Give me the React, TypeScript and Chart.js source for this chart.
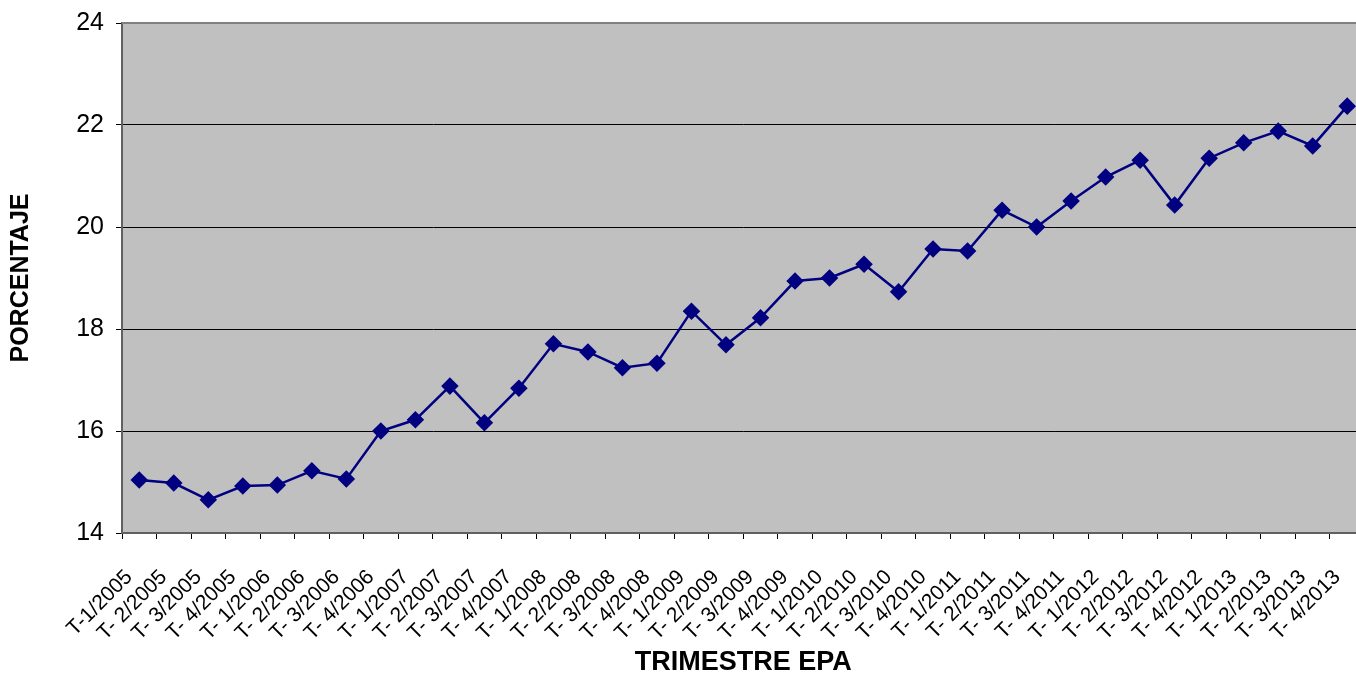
import React, { useEffect, useRef } from "react";
import { Chart, registerables } from "chart.js";

Chart.register(...registerables);

const categories: string[] = [
  "T-1/2005", "T- 2/2005", "T- 3/2005", "T- 4/2005",
  "T- 1/2006", "T- 2/2006", "T- 3/2006", "T- 4/2006",
  "T- 1/2007", "T- 2/2007", "T- 3/2007", "T- 4/2007",
  "T- 1/2008", "T- 2/2008", "T- 3/2008", "T- 4/2008",
  "T- 1/2009", "T- 2/2009", "T- 3/2009", "T- 4/2009",
  "T- 1/2010", "T- 2/2010", "T- 3/2010", "T- 4/2010",
  "T- 1/2011", "T- 2/2011", "T- 3/2011", "T- 4/2011",
  "T- 1/2012", "T- 2/2012", "T- 3/2012", "T- 4/2012",
  "T- 1/2013", "T- 2/2013", "T- 3/2013", "T- 4/2013",
];

const porcentaje: number[] = [
  15.04, 14.98, 14.65, 14.92,
  14.94, 15.22, 15.06, 16.0,
  16.22, 16.88, 16.16, 16.84,
  17.71, 17.55, 17.24, 17.33,
  18.35, 17.69, 18.22, 18.94,
  19.0, 19.27, 18.73, 19.57,
  19.53, 20.33, 20.0, 20.51,
  20.98, 21.31, 20.43, 21.35,
  21.65, 21.88, 21.59, 22.37,
];

const yMin = 14;
const yMax = 24;
const yStep = 2;

const FONT = "'Liberation Sans', Arial, Helvetica, sans-serif";

const plotBg = {
  id: "plotBg",
  beforeDraw(chart: any) {
    const { ctx, chartArea } = chart;
    ctx.save();
    ctx.fillStyle = "#C0C0C0";
    ctx.fillRect(chartArea.left, chartArea.top, chartArea.right - chartArea.left, chartArea.bottom - chartArea.top);
    ctx.restore();
  },
  beforeDatasetsDraw(chart: any) {
    const { ctx, chartArea } = chart;
    ctx.save();
    ctx.strokeStyle = "#808080";
    ctx.lineWidth = 2;
    ctx.beginPath();
    ctx.moveTo(chartArea.left, chartArea.top);
    ctx.lineTo(chartArea.right, chartArea.top);
    ctx.stroke();
    ctx.restore();
  },
};

export default function App() {
  const ref = useRef<HTMLCanvasElement | null>(null);
  useEffect(() => {
    if (!ref.current) return;
    const chart = new Chart(ref.current, {
      type: "line",
      data: {
        labels: categories,
        datasets: [
          {
            label: "Porcentaje",
            data: porcentaje,
            borderColor: "#000080",
            backgroundColor: "#000080",
            borderWidth: 2.5,
            pointStyle: "rectRot",
            pointRadius: 7,
            pointHoverRadius: 7,
            pointBackgroundColor: "#000080",
            pointBorderColor: "#000080",
            tension: 0,
            clip: false,
          },
        ],
      },
      options: {
        animation: false,
        responsive: false,
        maintainAspectRatio: false,
        layout: { padding: { top: 23, right: 0, left: 0, bottom: 0 } },
        plugins: {
          legend: { display: false },
          tooltip: { enabled: false },
          title: { display: false },
        },
        scales: {
          x: {
            type: "category",
            offset: true,
            afterFit(scale: any) {
              scale.height = 140;
              scale.paddingRight = 0;
              scale.paddingLeft = 0;
            },
            grid: {
              display: true,
              offset: true,
              drawOnChartArea: false,
              drawTicks: true,
              tickLength: 6,
              color: "#000000",
              lineWidth: 1,
            },
            border: { display: true, color: "#606060", width: 2 },
            ticks: {
              autoSkip: false,
              minRotation: 45,
              maxRotation: 45,
              color: "#000000",
              padding: 26,
              labelOffset: -10,
              font: { family: FONT, size: 21 },
            },
            title: {
              display: true,
              text: "TRIMESTRE EPA",
              color: "#000000",
              font: { family: FONT, size: 27, weight: "bold", lineHeight: 0.8 },
              padding: { top: 0, bottom: 0 },
            },
          },
          y: {
            min: yMin,
            max: yMax,
            afterFit(scale: any) {
              scale.width = 122;
              scale.paddingTop = 0;
              scale.paddingBottom = 0;
            },
            grid: {
              display: true,
              drawOnChartArea: true,
              drawTicks: true,
              tickLength: 6,
              color: "#000000",
              lineWidth: 1,
            },
            border: { display: true, color: "#606060", width: 2 },
            ticks: {
              stepSize: yStep,
              color: "#000000",
              padding: 12,
              font: { family: FONT, size: 25 },
            },
            title: {
              display: true,
              text: "PORCENTAJE",
              color: "#000000",
              font: { family: FONT, size: 25, weight: "bold" },
              padding: { top: 6, bottom: 0 },
            },
          },
        },
      },
      plugins: [plotBg],
    });
    return () => chart.destroy();
  }, []);
  return (
    <div style={{ position: "fixed", left: 0, top: 0, width: 1356, height: 673, overflow: "hidden", background: "#fff" }}>
      <canvas ref={ref} width={1374} height={673} style={{ display: "block", width: 1374, height: 673 }} />
    </div>
  );
}
